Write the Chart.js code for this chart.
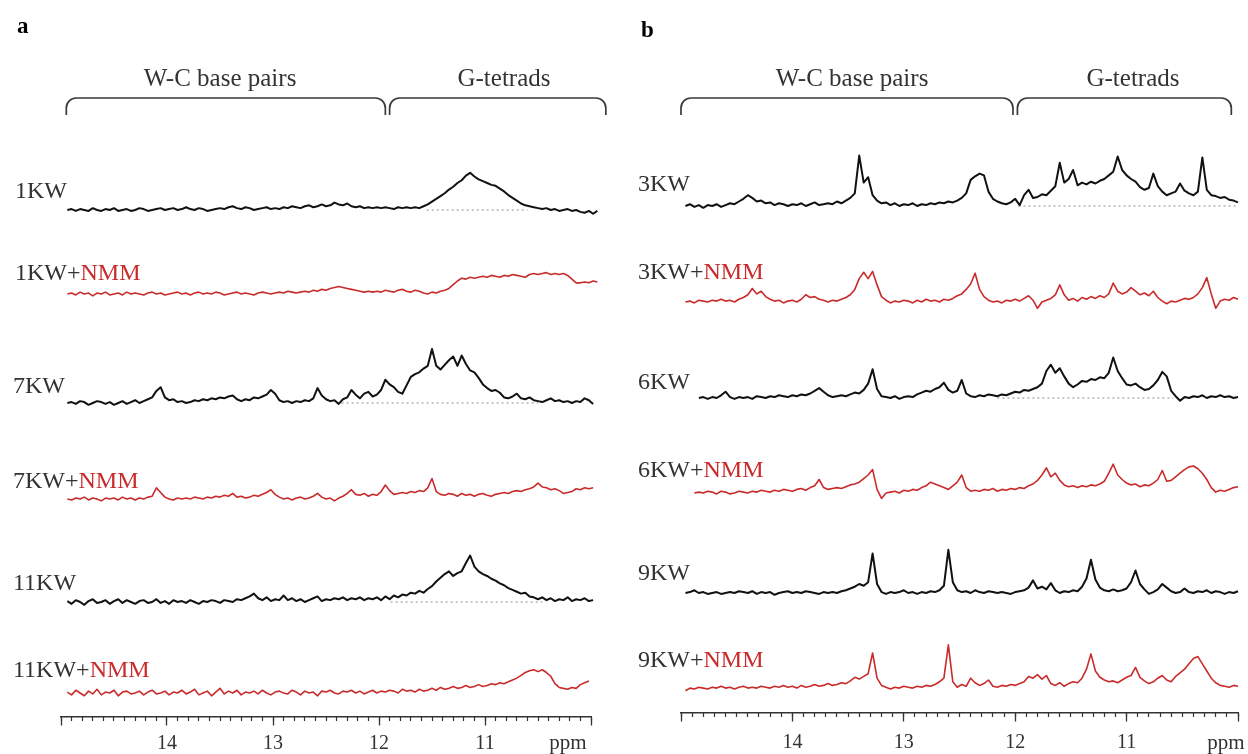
<!DOCTYPE html>
<html>
<head>
<meta charset="utf-8">
<script src="https://cdn.jsdelivr.net/npm/chart.js@4.4.1/dist/chart.umd.min.js"></script>
<style>
  html, body { margin: 0; padding: 0; background: #fff; }
  body { width: 1248px; height: 754px; position: relative; overflow: hidden; font-family: "Liberation Serif", "Times New Roman", serif; color: #333; }
  canvas { position: absolute; top: 0; }
  #panelA { left: 0; }
  #panelB { left: 624px; }
  .t { position: absolute; white-space: nowrap; line-height: 1; }
  .lbl { font-size: 24px; color: #333; }
  .nmm { color: #c92b2b; }
  .ttl { font-size: 25px; color: #333; transform: translateX(-50%); }
  .letter { font-size: 23px; font-weight: bold; color: #000; }
  .ppm { font-size: 21px; color: #333; transform: translateX(-50%); }
</style>
</head>
<body>
<canvas id="panelA" width="624" height="754"></canvas>
<canvas id="panelB" width="624" height="754"></canvas>

<div class="t letter" style="left:17px; top:14px;">a</div>
<div class="t letter" style="left:641px; top:18px;">b</div>

<div class="t ttl" style="left:220px; top:65px;">W-C base pairs</div>
<div class="t ttl" style="left:504px; top:65px;">G-tetrads</div>
<div class="t ttl" style="left:852px; top:65px;">W-C base pairs</div>
<div class="t ttl" style="left:1133px; top:65px;">G-tetrads</div>

<div class="t lbl" style="left:15px; top:178px;">1KW</div>
<div class="t lbl" style="left:15px; top:260px;">1KW+<span class="nmm">NMM</span></div>
<div class="t lbl" style="left:13px; top:373px;">7KW</div>
<div class="t lbl" style="left:13px; top:468px;">7KW+<span class="nmm">NMM</span></div>
<div class="t lbl" style="left:13px; top:570px;">11KW</div>
<div class="t lbl" style="left:13px; top:657px;">11KW+<span class="nmm">NMM</span></div>

<div class="t lbl" style="left:638px; top:171px;">3KW</div>
<div class="t lbl" style="left:638px; top:259px;">3KW+<span class="nmm">NMM</span></div>
<div class="t lbl" style="left:638px; top:369px;">6KW</div>
<div class="t lbl" style="left:638px; top:457px;">6KW+<span class="nmm">NMM</span></div>
<div class="t lbl" style="left:638px; top:560px;">9KW</div>
<div class="t lbl" style="left:638px; top:647px;">9KW+<span class="nmm">NMM</span></div>

<div class="t ppm" style="left:568px; top:732px;">ppm</div>
<div class="t ppm" style="left:1226px; top:732px;">ppm</div>

<script>
const PPM_STEP = 0.04;
const PPM_START_A = 14.94;
const PPM_START_B = 14.96;
const PPM_MIN = 10, PPM_MAX = 15;

// ---- panel a: intensities above each trace's baseline ----
const kw1 = [0,1,-1,1,0,-1,2,0,-1,1,
  0,2,-1,0,1,-1,0,2,1,-1,
  0,1,2,0,1,2,0,1,3,1,
  0,2,1,-1,0,1,2,1,3,4,
  2,1,3,2,0,1,2,3,1,2,
  1,3,2,4,3,2,4,5,3,4,
  6,4,5,8,6,5,7,4,3,4,
  2,3,2,3,2,3,2,1,3,2,
  3,2,3,2,4,6,9,12,15,18,
  22,25,29,32,37,40,36,33,31,29,
  27,26,23,20,16,13,10,7,5,4,
  3,2,1,2,0,1,-1,0,1,-1,
  0,-2,-3,-1,-4,-1];
const kw1Nmm = [0,1,-1,2,0,1,-2,1,0,2,
  -1,0,1,-1,2,0,1,0,-1,1,
  2,0,1,-1,0,1,2,0,1,-1,
  1,2,0,1,0,2,1,-1,0,1,
  2,0,1,0,-1,1,2,1,0,1,
  2,1,3,2,1,2,3,2,4,3,
  5,4,6,7,8,7,6,5,4,3,
  2,3,2,3,2,4,3,2,4,5,
  3,2,4,3,1,0,2,1,3,4,
  6,10,14,17,16,18,17,18,19,18,
  20,19,18,20,19,21,20,19,18,21,
  22,21,22,23,21,22,21,22,20,16,
  12,12,13,12,14,13];
const kw7 = [0,1,-1,2,1,-2,0,2,1,-1,
  1,-2,0,2,-1,1,3,0,2,4,
  6,13,17,6,3,4,1,2,0,1,
  3,2,4,3,5,4,6,5,7,8,
  4,2,4,3,6,5,7,9,14,10,
  3,1,2,0,2,1,3,2,5,16,
  8,4,2,3,-1,4,6,14,9,5,
  10,12,7,9,14,25,20,17,12,10,
  19,28,31,33,37,40,58,40,36,41,
  46,50,40,51,42,35,33,27,20,16,
  13,14,11,6,5,7,10,5,4,6,
  3,2,1,3,5,2,3,1,2,0,
  2,1,5,3,-1];
const kw7Nmm = [0,-1,1,0,2,-1,1,0,-2,1,
  0,1,-1,2,0,1,-1,1,0,2,
  3,12,7,2,0,-1,1,0,1,0,
  2,1,0,2,1,3,2,4,3,6,
  2,3,1,2,4,3,5,7,10,5,
  2,0,1,-1,1,2,0,1,3,6,
  2,0,1,-2,1,3,6,10,5,4,
  6,3,5,4,8,15,9,5,6,7,
  6,8,7,9,8,12,22,8,5,4,
  6,5,3,6,4,5,3,5,6,4,
  3,5,6,7,6,8,9,8,10,11,
  13,17,13,12,10,11,9,6,7,8,
  11,10,12,11,12];
const kw11 = [1,-2,2,0,-3,1,3,-1,0,2,
  -2,1,3,-1,2,0,-2,1,2,-1,
  0,3,-1,1,-2,2,0,1,-1,2,
  0,-2,1,0,2,1,-1,2,1,0,
  3,2,4,6,9,4,2,5,1,3,
  2,7,2,4,1,3,0,2,4,6,
  1,3,2,4,3,5,2,4,3,5,
  2,4,3,5,2,6,3,7,5,8,
  7,10,9,12,10,14,17,22,26,30,
  33,28,31,33,42,50,38,33,30,28,
  25,23,20,18,15,13,11,9,10,6,
  5,3,5,2,4,1,3,2,5,1,
  3,2,4,1,2];
const kw11Nmm = [1,-2,3,0,-3,2,-1,4,-2,1,
  0,3,-3,1,2,-1,0,2,-2,1,
  3,-1,0,2,-2,1,0,3,-1,1,
  4,-2,0,2,-3,1,5,-1,2,0,
  3,-2,1,0,2,-1,3,0,-2,1,
  2,0,-1,3,1,-2,2,0,1,-3,
  2,1,3,0,-1,2,1,3,0,2,
  -1,1,3,0,2,1,3,2,0,4,
  2,3,1,4,2,3,5,3,6,4,
  5,7,5,6,8,6,7,9,7,8,
  10,9,11,10,12,14,16,19,22,24,
  25,23,25,22,18,10,6,5,4,6,
  5,9,11,13];

// ---- panel b ----
const kw3 = [0,2,-1,1,-2,1,0,2,-1,1,
  3,2,5,8,12,9,5,6,3,4,
  1,3,2,0,2,1,3,0,2,4,
  1,2,3,2,5,3,6,9,14,56,
  26,32,12,6,3,4,1,3,0,2,
  1,3,0,2,1,3,2,4,3,5,
  4,6,9,14,29,33,36,34,16,8,
  5,3,2,4,8,1,12,18,9,10,
  13,12,17,22,48,26,30,40,23,26,
  24,27,25,28,30,34,38,55,40,34,
  30,27,21,18,20,36,22,16,12,14,
  16,25,17,14,12,16,54,18,12,11,
  9,10,7,6,4];
const kw3Nmm = [0,1,-1,2,1,0,2,1,3,1,
  2,0,3,5,8,15,9,12,6,3,
  1,2,-1,1,2,0,3,8,5,6,
  3,2,0,2,1,3,5,8,14,26,
  33,26,34,19,6,2,-1,1,0,2,
  1,-1,2,0,3,1,2,0,3,2,
  4,7,9,14,20,32,14,6,2,0,
  1,-1,2,1,3,1,4,7,2,-7,
  0,2,4,8,19,8,2,4,1,5,
  3,6,4,7,5,9,21,12,9,11,
  16,12,8,10,7,12,5,1,-2,1,
  0,2,4,3,5,9,16,27,9,-7,
  1,3,2,5,3];
const kw6 = [null,null,null,0,1,-1,1,0,3,7,
  1,-1,1,0,1,-1,2,1,0,2,
  1,3,2,1,3,2,4,3,5,8,
  11,7,3,1,2,3,2,4,6,5,
  9,16,32,10,2,1,0,2,-1,1,
  2,1,4,6,8,7,10,12,17,9,
  6,8,20,5,2,1,3,2,4,3,
  2,4,3,5,7,6,9,8,10,12,
  16,30,37,28,33,24,16,12,15,19,
  18,21,20,23,22,28,45,30,22,15,
  14,16,12,9,10,14,20,29,24,8,
  2,-3,1,0,2,1,3,0,2,1,
  3,1,2,0,1];
const kw6Nmm = [null,null,0,1,0,2,1,-1,2,1,
  -1,0,2,1,0,2,1,3,2,1,
  3,2,4,3,2,4,5,3,6,8,
  15,6,4,5,6,5,7,9,10,12,
  16,20,26,4,-6,0,1,2,0,3,
  2,4,3,6,8,12,10,8,6,4,
  8,12,20,6,2,3,2,4,3,5,
  2,4,3,5,4,6,5,8,10,14,
  20,28,18,22,14,9,7,8,6,8,
  7,9,8,10,13,22,32,20,15,11,
  9,10,7,9,8,11,15,25,13,14,
  18,22,26,29,30,27,22,15,6,1,
  3,2,4,6,7];
const kw9 = [0,1,3,0,1,-1,0,1,-1,0,
  1,0,2,1,0,2,-1,1,0,1,
  -2,0,1,2,0,1,0,2,1,0,
  -1,1,0,1,0,2,3,5,7,10,
  8,12,44,10,1,-1,1,0,1,3,
  0,1,-1,1,0,2,1,3,8,48,
  12,3,1,2,0,3,1,0,2,1,
  0,1,0,-1,1,2,3,6,14,5,
  7,4,11,3,0,2,1,3,2,7,
  16,37,15,6,3,2,4,2,3,5,
  12,25,10,4,-1,1,4,10,6,2,
  0,1,5,1,0,2,1,3,0,2,
  1,-1,1,0,2];
const kw9Nmm = [-2,1,0,2,1,0,2,1,3,1,
  2,0,2,3,1,2,1,3,2,1,
  3,2,4,2,3,1,4,2,3,5,
  3,4,6,4,5,7,6,9,13,11,
  14,17,40,12,4,2,0,2,1,3,
  2,1,3,2,4,3,5,8,12,49,
  8,2,5,3,12,7,4,6,10,3,
  2,4,3,5,4,6,8,14,12,16,
  11,15,6,4,7,3,6,8,7,12,
  22,39,20,13,10,8,9,7,10,13,
  15,24,13,9,6,8,12,15,10,8,
  14,18,22,28,34,36,28,20,12,7,
  4,3,2,4,3];

const seriesA = [kw1, kw1Nmm, kw7, kw7Nmm, kw11, kw11Nmm];
const seriesB = [kw3, kw3Nmm, kw6, kw6Nmm, kw9, kw9Nmm];

// dotted reference baselines under the broad humps (ppm from, to)
const dottedA = [[11.55, 10.6], null, [12.4, 10.5], null, [11.89, 10.46], null];
const dottedB = [[11.97, 10.0], null, [12.16, 10.58], null, null, null];

// spectral regions marked by the brackets (ppm from, to)
const bracketsA = [[14.95, 11.94], [11.90, 9.86]];
const bracketsB = [[15.0, 12.02], [11.98, 10.06]];

const BLACK = '#111111';
const RED = '#c92b2b';

const bracketPlugin = {
  id: 'brackets',
  afterDraw(chart, args, opts) {
    const ctx = chart.ctx;
    const xs = chart.scales.x;
    ctx.save();
    ctx.strokeStyle = '#3a3a3a';
    ctx.lineWidth = 1.7;
    opts.ranges.forEach(([a, b]) => {
      const x1 = xs.getPixelForValue(a);
      const x2 = xs.getPixelForValue(b);
      const r = 10;
      ctx.beginPath();
      ctx.moveTo(x1, opts.bottom);
      ctx.arcTo(x1, opts.top, x1 + r, opts.top, r);
      ctx.arcTo(x2, opts.top, x2, opts.top + r, r);
      ctx.lineTo(x2, opts.bottom);
      ctx.stroke();
    });
    ctx.restore();
  }
};

function buildPanel(p) {
  const datasets = [];
  p.series.forEach((values, k) => {
    const base = p.baselines[k];
    const red = k % 2 === 1;
    datasets.push({
      data: values.map((v, i) => ({ x: p.start - i * PPM_STEP, y: v === null ? null : base - v * p.gain })),
      borderColor: red ? RED : BLACK,
      borderWidth: red ? 1.6 : 2,
      borderJoinStyle: 'round',
      pointRadius: 0,
      tension: 0,
      clip: false,
      order: 0
    });
    const d = p.dotted[k];
    if (d) {
      datasets.push({
        data: d.map(v => ({ x: v, y: base })),
        borderColor: '#8c8c8c',
        borderWidth: 1,
        borderDash: [2, 3],
        pointRadius: 0,
        clip: false,
        order: 1
      });
    }
  });

  return new Chart(document.getElementById(p.id), {
    type: 'line',
    data: { datasets },
    options: {
      responsive: false,
      animation: false,
      devicePixelRatio: 1,
      events: [],
      layout: { padding: { left: p.left, right: 624 - p.right, top: 0, bottom: 0 } },
      plugins: {
        legend: { display: false },
        tooltip: { enabled: false },
        brackets: { ranges: p.brackets, top: 98, bottom: 115 }
      },
      scales: {
        x: {
          type: 'linear', axis: 'x', min: PPM_MIN, max: PPM_MAX, reverse: true,
          position: { y: p.axisY },
          border: { display: false },
          grid: { drawOnChartArea: false, tickLength: 4, tickColor: '#333', tickWidth: 1.2 },
          ticks: { display: false, stepSize: 0.1 }
        },
        xMajor: {
          type: 'linear', axis: 'x', min: PPM_MIN, max: PPM_MAX, reverse: true,
          position: { y: p.axisY },
          border: { display: true, color: '#333', width: 1.5 },
          grid: { drawOnChartArea: false, tickLength: 8, tickColor: '#333', tickWidth: 1.3 },
          ticks: {
            stepSize: 1, autoSkip: false, maxRotation: 0, padding: p.labelPad, color: '#333',
            font: { family: 'Liberation Serif', size: 20 },
            callback: v => (v === PPM_MIN || v === PPM_MAX) ? '' : String(v)
          }
        },
        y: { type: 'linear', min: 0, max: 754, reverse: true, display: false }
      }
    },
    plugins: [bracketPlugin]
  });
}

buildPanel({
  id: 'panelA', series: seriesA, dotted: dottedA, brackets: bracketsA,
  start: PPM_START_A, left: 61, right: 591, axisY: 717, labelPad: 7, gain: 0.93,
  baselines: [210, 294, 403, 499, 602, 693]
});
buildPanel({
  id: 'panelB', series: seriesB, dotted: dottedB, brackets: bracketsB,
  start: PPM_START_B, left: 57, right: 623, axisY: 713, labelPad: 10, gain: 0.9,
  baselines: [206, 302, 398, 493, 593, 689]
});
</script>
</body>
</html>
